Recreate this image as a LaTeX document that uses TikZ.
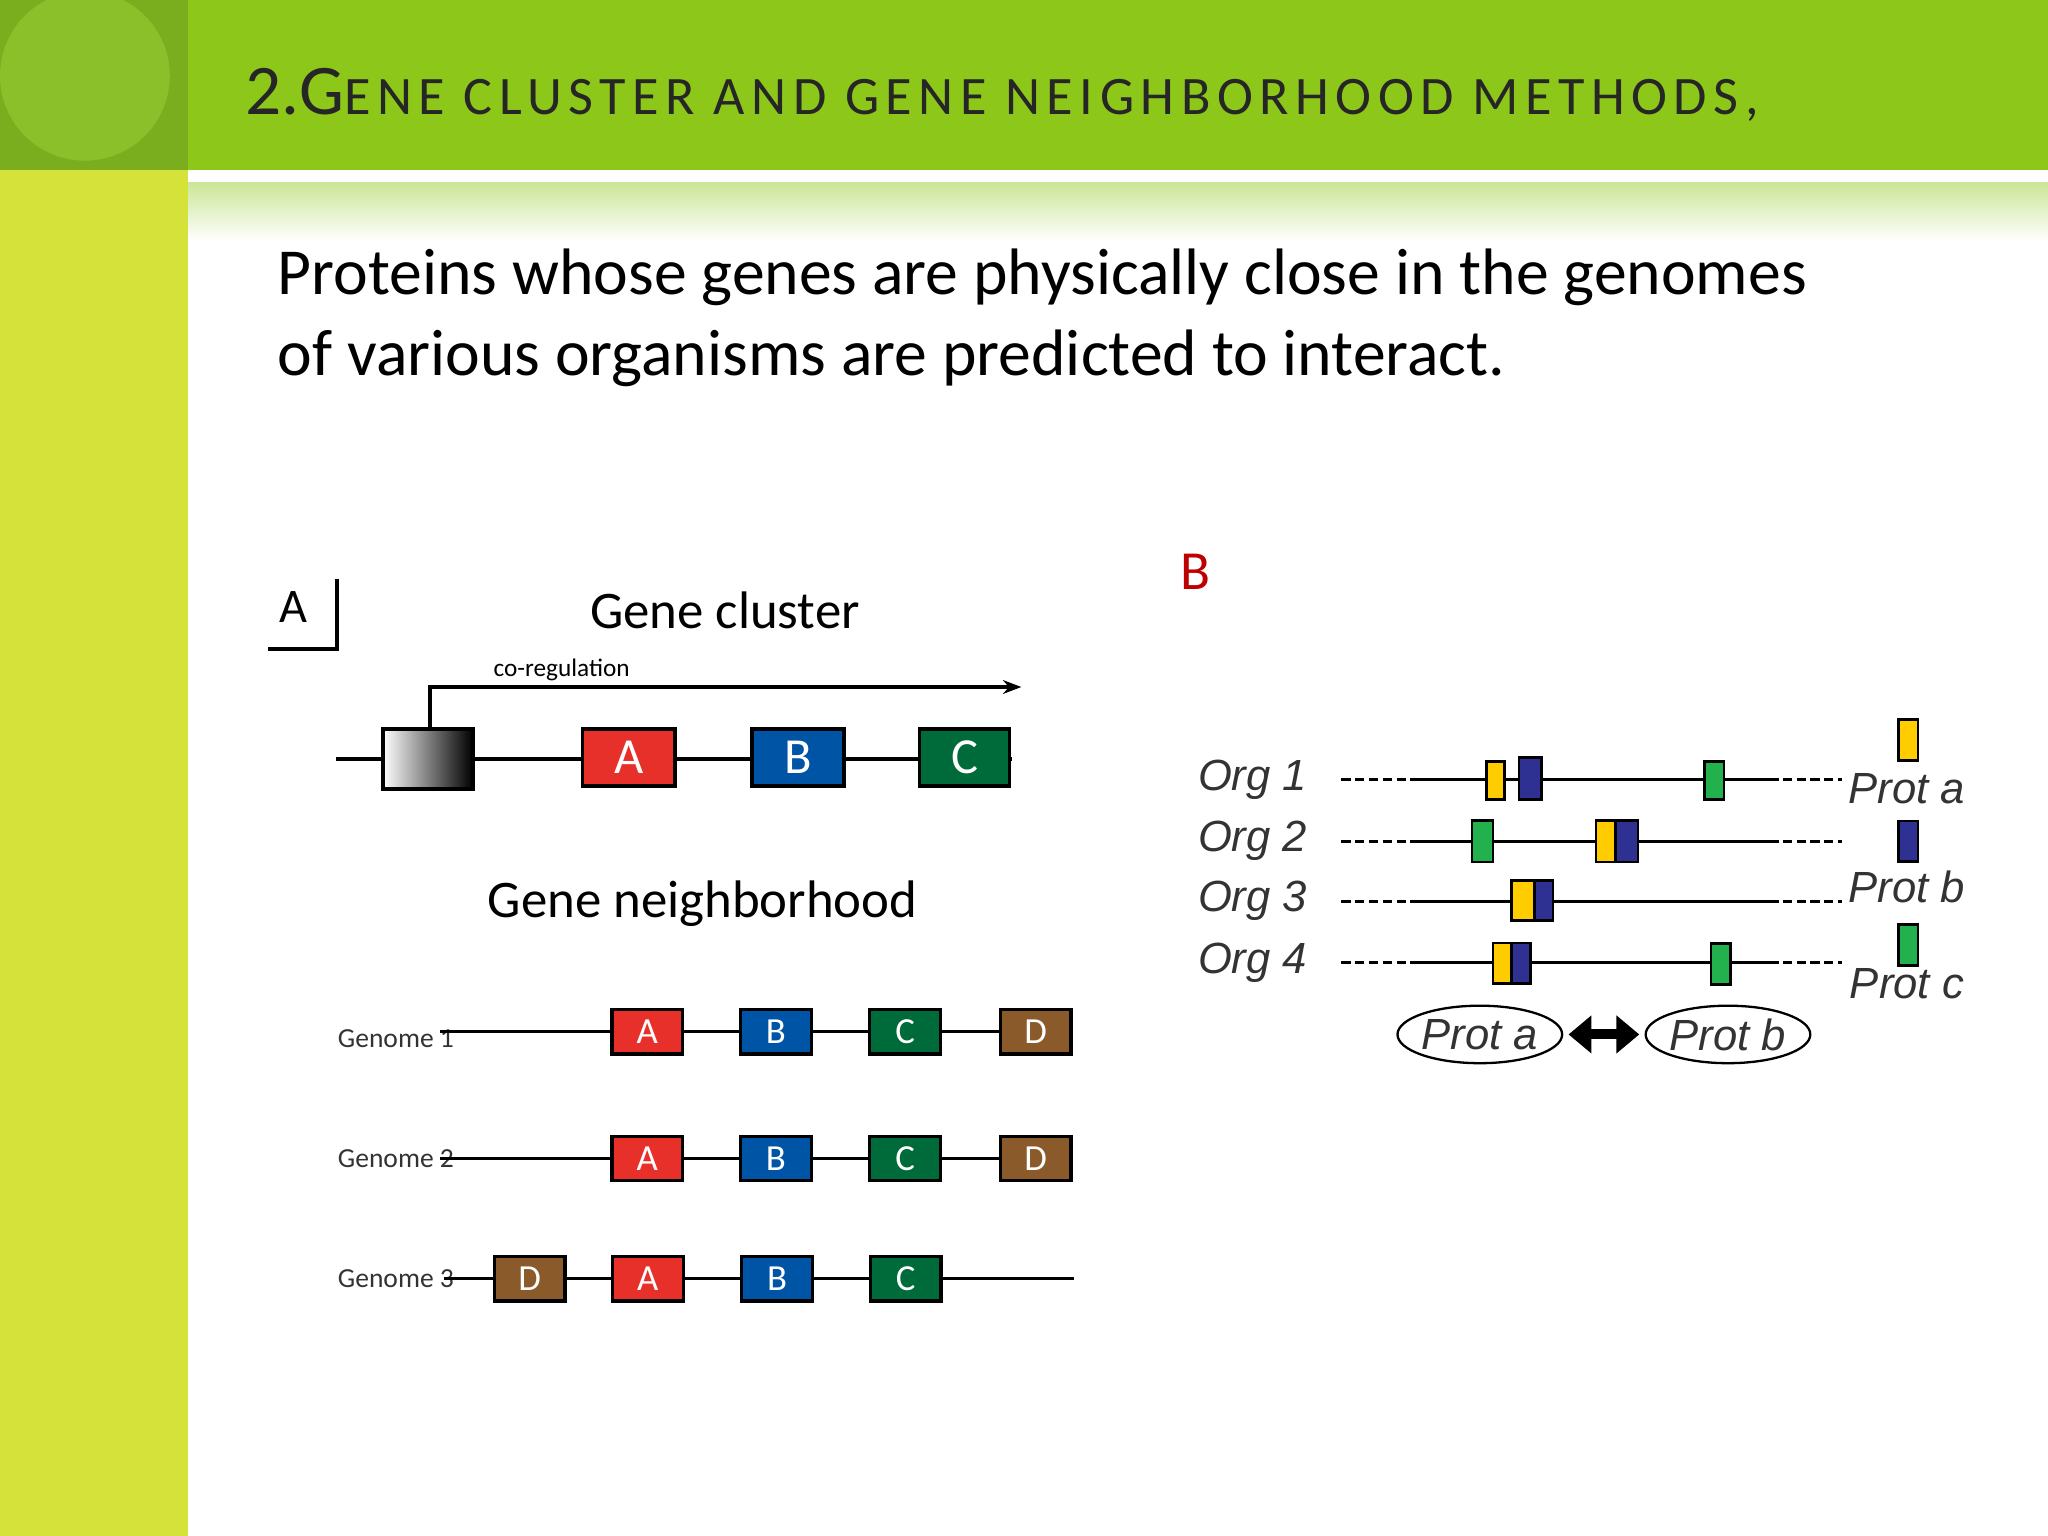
\documentclass[tikz,border=0pt]{standalone}
\usepackage{fontspec}
\setmainfont{Carlito}
\newfontfamily\arial{Liberation Sans}
\usetikzlibrary{shapes.geometric,arrows.meta}
\definecolor{topgreen}{HTML}{8DC71A}
\definecolor{cornergreen}{HTML}{7AAE1E}
\definecolor{circgreen}{HTML}{8CC02A}
\definecolor{sidegreen}{HTML}{D4E23A}
\definecolor{gred}{HTML}{E8302A}
\definecolor{gblue}{HTML}{0054A6}
\definecolor{ggreen}{HTML}{006B3A}
\definecolor{gbrown}{HTML}{8B5A2B}
\definecolor{pyel}{HTML}{FFCC00}
\definecolor{pblue}{HTML}{2E3192}
\definecolor{pgreen}{HTML}{22B14C}
\tikzset{
 gene/.style={draw=black,line width=0.8pt,minimum width=#1*0.01cm,minimum height=0.44cm,inner sep=0,text=white,font=\fontsize{11}{11}\selectfont},
 ngene/.style={draw=black,line width=0.7pt,minimum width=0.54cm,minimum height=0.34cm,inner sep=0,text=white,font=\fontsize{8}{8}\selectfont},
 glab/.style={font=\fontsize{6}{6}\selectfont,text=black!80,anchor=west,inner sep=0},
 pbox/.style={draw=black,line width=0.6pt,inner sep=0,minimum width=0.15cm,minimum height=0.31cm},
 orgl/.style={font=\arial\itshape\fontsize{9.5}{9.5}\selectfont,text=black!80,inner sep=0},
 bline/.style={line width=0.7pt},
 dline/.style={line width=0.6pt,dash pattern=on 2pt off 1pt},
}
\begin{document}
\begin{tikzpicture}[x=0.01cm,y=-0.01cm]
\useasboundingbox (0,0) rectangle (1568,1176);
\fill[white] (0,0) rectangle (1568,1176);
\fill[sidegreen] (0,0) rectangle (144,1176);
\fill[topgreen] (0,0) rectangle (1568,130);
\fill[cornergreen] (0,0) rectangle (144,130);
\fill[circgreen] (65,58) circle (65);
\shade[top color=topgreen!45,bottom color=white] (144,140) rectangle (1568,185);
\node[anchor=base west,inner sep=0,text=black!85,font=\fontsize{15.5}{15.5}\selectfont] (title) at (187,88)
 {2.\addfontfeature{LetterSpace=12}G\fontsize{11.8}{12}\selectfont ENE CLUSTER AND GENE NEIGHBORHOOD METHODS,};
\node[anchor=north west,align=left,inner sep=0,font=\fontsize{14.3}{17.6}\selectfont,text=black] (body) at (212,190)
 {Proteins whose genes are physically close in the genomes\\of various organisms are predicted to interact.};
% Part A
\node[font=\fontsize{10.5}{10.5}\selectfont] (lA) at (225,465) {A};
\draw[line width=0.8pt] (258,443) -- (258,497) -- (205,497);
\node[font=\fontsize{11.5}{11.5}\selectfont] (gc) at (555,467) {Gene cluster};
\node[font=\fontsize{5.5}{5.5}\selectfont] (coreg) at (430,513) {co-regulation};
\draw[line width=0.8pt] (257,581) -- (775,581);
\node[draw=black,line width=0.8pt,minimum width=0.69cm,minimum height=0.46cm,inner sep=0,left color=white,right color=black] (prom) at (327.5,581) {};
\coordinate (arrend) at (782,526);
\draw[line width=0.8pt,-{Stealth[length=4pt]}] (329,558) |- (arrend);
\node[gene=71,fill=gred] (cA) at (481.5,580) {A};
\node[gene=70,fill=gblue] (cB) at (611,580) {B};
\node[gene=69,fill=ggreen] (cC) at (738.5,580) {C};
\node[font=\fontsize{11.5}{11.5}\selectfont] (gn) at (538,692) {Gene neighborhood};
% genomes
\node[glab] (g1) at (258,795) {Genome 1};
\draw[line width=0.7pt] (337,790) -- (820,790);
\node[ngene,fill=gred] at (495.5,790) {A};
\node[ngene,fill=gblue] at (594,790) {B};
\node[ngene,fill=ggreen] at (693,790) {C};
\node[ngene,fill=gbrown] at (793,790) {D};
\node[glab] (g2) at (258,887) {Genome 2};
\draw[line width=0.7pt] (337,887) -- (820,887);
\node[ngene,fill=gred] at (495.5,887) {A};
\node[ngene,fill=gblue] at (594,887) {B};
\node[ngene,fill=ggreen] at (693,887) {C};
\node[ngene,fill=gbrown] at (793,887) {D};
\node[glab] (g3) at (258,979) {Genome 3};
\draw[line width=0.7pt] (340,979) -- (822,979);
\node[ngene,fill=gbrown] at (405.5,979) {D};
\node[ngene,fill=gred] at (496,979) {A};
\node[ngene,fill=gblue] at (595,979) {B};
\node[ngene,fill=ggreen] at (693.5,979) {C};
% Part B
\node[text=red!75!black,font=\fontsize{12}{12}\selectfont] (lB) at (915,438) {B};
\foreach \y/\n in {597/1,644/2,690/3,737/4}{
 \node[orgl] (org\n) at (959,\y) {Org \n};
 \draw[dline] (1027,\y) -- (1080,\y);
 \draw[bline] (1080,\y) -- (1362,\y);
 \draw[dline] (1365,\y) -- (1410,\y);
}
% org1
\node[pbox,fill=pyel,minimum width=0.14cm,minimum height=0.29cm] at (1145,597.5) {};
\node[pbox,fill=pblue,minimum width=0.17cm,minimum height=0.32cm] at (1171.5,596) {};
\node[pbox,fill=pgreen,minimum width=0.15cm,minimum height=0.29cm] at (1312.5,597.5) {};
% org2
\node[pbox,fill=pgreen,minimum width=0.16cm,minimum height=0.32cm] at (1135,644) {};
\node[pbox,fill=pyel,minimum width=0.15cm,minimum height=0.32cm] at (1229.5,644) {};
\node[pbox,fill=pblue,minimum width=0.17cm,minimum height=0.32cm] at (1245.5,644) {};
% org3
\node[pbox,fill=pyel,minimum width=0.18cm,minimum height=0.31cm] at (1166,689.5) {};
\node[pbox,fill=pblue,minimum width=0.14cm,minimum height=0.31cm] at (1182,689.5) {};
% org4
\node[pbox,fill=pyel,minimum width=0.14cm,minimum height=0.31cm] at (1150,737.5) {};
\node[pbox,fill=pblue,minimum width=0.15cm,minimum height=0.31cm] at (1164.5,737.5) {};
\node[pbox,fill=pgreen,minimum width=0.15cm,minimum height=0.31cm] at (1317.5,738) {};
% legend
\node[pbox,fill=pyel] (ka) at (1461,566.5) {};
\node[orgl] (pa) at (1460,604) {Prot a};
\node[pbox,fill=pblue] (kb) at (1461,644) {};
\node[orgl] (pb) at (1460,679) {Prot b};
\node[pbox,fill=pgreen] (kc) at (1461,723.5) {};
\node[orgl] (pc) at (1460,753) {Prot c};
\node[ellipse,draw=black,line width=0.5pt,minimum width=1.18cm,minimum height=0.44cm,inner sep=0,orgl] (ea) at (1133,792) {Prot a};
\node[ellipse,draw=black,line width=0.5pt,minimum width=1.18cm,minimum height=0.44cm,inner sep=0,orgl] (eb) at (1323,792) {Prot b};
\draw[line width=2.2pt,{Triangle[length=5pt,width=8pt]}-{Triangle[length=5pt,width=8pt]}] (ea.east) ++(4,0) -- ([xshift=-0.04cm]eb.west);
\end{tikzpicture}
\end{document}
